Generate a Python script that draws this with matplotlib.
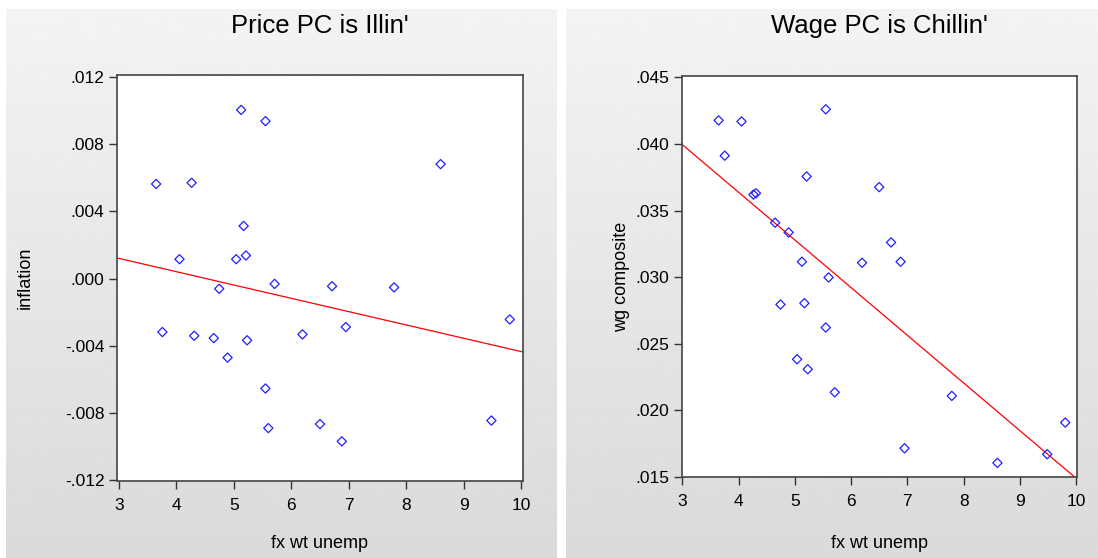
import matplotlib.pyplot as plt
import numpy as np
from matplotlib.ticker import FuncFormatter

# fx wt unemp (shared x for both panels)
unemp = [3.646, 3.755, 4.053, 4.265, 4.31, 4.65, 4.745, 4.89, 5.04, 5.127,
         5.17, 5.21, 5.23, 5.55, 5.55, 5.60, 5.71, 6.195, 6.50, 6.71,
         6.88, 6.95, 7.79, 8.60, 9.485, 9.805]
inflation = [0.00563, -0.00319, 0.00115, 0.00570, -0.00341, -0.00355, -0.00061, -0.00471, 0.00115, 0.01004,
             0.00313, 0.00137, -0.00368, 0.00937, -0.00655, -0.00891, -0.00032, -0.00333, -0.00867, -0.00046,
             -0.00970, -0.00289, -0.00053, 0.00681, -0.00846, -0.00244]
wg_composite = [0.04177, 0.03912, 0.04169, 0.03620, 0.03630, 0.03409, 0.02795, 0.03336, 0.02384, 0.03116,
                0.02805, 0.03756, 0.02309, 0.04260, 0.02622, 0.02998, 0.02136, 0.03108, 0.03676, 0.03261,
                0.03116, 0.01716, 0.02109, 0.01606, 0.01671, 0.01909]

titles = ["Price PC is Illin'", "Wage PC is Chillin'"]
ylabels = ["inflation", "wg composite"]
xticks = [3, 4, 5, 6, 7, 8, 9, 10]
yticks_left = [-0.012, -0.008, -0.004, 0.0, 0.004, 0.008, 0.012]
yticks_right = [0.015, 0.020, 0.025, 0.030, 0.035, 0.040, 0.045]

plt.rcParams['font.family'] = ['Liberation Sans', 'DejaVu Sans']


def dotfmt(v, pos):
    s = f"{v:.3f}"
    return s.replace("0.", ".", 1)


def main():
    W, H = 1098, 558
    fig = plt.figure(figsize=(W / 100, H / 100), dpi=100)

    # Gradient panel backgrounds
    grad = np.linspace(0.955, 0.855, 256).reshape(-1, 1)
    for x0, x1 in [(6, 557), (566, 1098)]:
        bg = fig.add_axes([x0 / W, 0, (x1 - x0) / W, 1 - 9 / H], zorder=0)
        bg.imshow(grad, cmap="gray", vmin=0, vmax=1, aspect="auto",
                  extent=[0, 1, 0, 1])
        bg.axis("off")

    boxes = [
        (117, 75, 522.7, 481, (2.965, 10.03), (-0.01206, 0.01212), yticks_left, inflation),
        (681.7, 76, 1077.3, 477.3, (2.99, 10.02), (0.01498, 0.0451), yticks_right, wg_composite),
    ]
    ylab_x = [25, 622]
    for i, (l, t, r, b, xl, yl, yt, ys) in enumerate(boxes):
        ax = fig.add_axes([l / W, 1 - b / H, (r - l) / W, (b - t) / H], zorder=1)
        ax.set_facecolor("white")
        x = np.array(unemp)
        y = np.array(ys)
        ax.scatter(x, y, marker="D", s=22, facecolors="none",
                   edgecolors="#2020ff", linewidths=0.9, zorder=3)
        slope, icept = np.polyfit(x, y, 1)
        xx = np.array(xl)
        ax.plot(xx, icept + slope * xx, color="red", lw=0.9, zorder=2)
        ax.set_xlim(xl)
        ax.set_ylim(yl)
        ax.set_xticks(xticks)
        ax.set_yticks(yt)
        ax.yaxis.set_major_formatter(FuncFormatter(dotfmt))
        ax.tick_params(direction="out", length=6, width=1, color="#333333",
                       labelsize=12.5, pad=3, top=False, right=False)
        ax.tick_params(axis="x", pad=6)
        for s in ax.spines.values():
            s.set_color("#444444")
            s.set_linewidth(1.2)
        xc = (l + r) / 2 / W
        yc = 1 - (t + b) / 2 / H
        fig.text(ylab_x[i] / W, yc, ylabels[i], fontsize=13, rotation=90,
                 ha="center", va="center")
        fig.text(xc, 1 - 544 / H, "fx wt unemp", fontsize=13,
                 ha="center", va="center")
        fig.text(xc, 1 - 26 / H, titles[i], fontsize=18.5,
                 ha="center", va="center")

    fig.savefig("out.png", dpi=100)


if __name__ == "__main__":
    main()
